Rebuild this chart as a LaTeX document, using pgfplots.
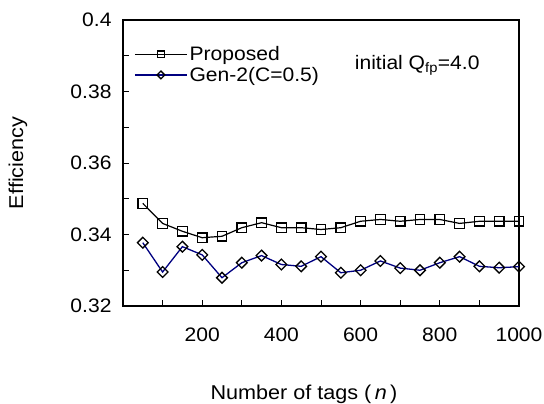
\documentclass[border=0pt]{standalone}
\usepackage{fontspec}
\setmainfont{Liberation Sans}[FakeStretch=1.08]
\usepackage{pgfplots}
\usepackage{pgfplotstable}
\pgfplotsset{compat=1.18}
\definecolor{gentwo}{RGB}{0,0,128}

% efficiency vs number of tags
\pgfplotstableread{
n    prop    gen
50   0.3487  0.3377
100  0.3431  0.3295
150  0.3409  0.3366
200  0.3391  0.3343
250  0.3395  0.3279
300  0.3419  0.3321
350  0.3433  0.3341
400  0.3419  0.3316
450  0.3419  0.3311
500  0.3414  0.3338
550  0.3419  0.3293
600  0.3437  0.3300
650  0.3442  0.3326
700  0.3437  0.3306
750  0.3442  0.3300
800  0.3442  0.3321
850  0.3431  0.3338
900  0.3437  0.3311
950  0.3437  0.3307
1000 0.3437  0.3310
}\effdata

\newcommand{\lblfont}{\fontsize{19.5bp}{22bp}\selectfont}

\begin{document}
\begin{tikzpicture}
\begin{axis}[
  scale only axis, width=396bp, height=286bp,
  xmin=0, xmax=1000, ymin=0.32, ymax=0.40,
  xtick={200,400,600,800,1000}, minor xtick={100,300,500,700,900},
  ytick={0.32,0.34,0.36,0.38,0.40}, minor ytick={0.33,0.35,0.37,0.39},
  tick align=inside, xtick pos=bottom, ytick pos=left,
  major tick length=6bp, minor tick length=6bp,
  axis line style={line width=1.4bp},
  every tick/.style={black, line width=0.8bp},
  /pgf/number format/assume math mode=true,
  tick label style={font=\lblfont},
  yticklabel style={/pgf/number format/fixed, /pgf/number format/precision=2, xshift=-8bp},
  xticklabel style={/pgf/number format/1000 sep={}, yshift=-18bp},
  xlabel={Number of tags (\,\textit{n}\,)},
  ylabel={Efficiency},
  label style={font=\fontsize{20bp}{23bp}\selectfont},
  xlabel style={at={(axis description cs:0.457,0)}, anchor=center, yshift=-88bp},
  ylabel style={at={(axis description cs:0,0.5)}, anchor=center, xshift=0bp, yshift=105bp},
  legend style={draw=none, fill=none, at={(axis description cs:0.028,0.915)},
    anchor=north west, font=\lblfont, row sep=1bp, inner sep=0pt},
  legend cell align=left,
  legend image code/.code={\draw[mark repeat=2, mark phase=2, #1, mark size=0.72*\pgfplotmarksize]
    plot coordinates {(0bp,0bp) (26bp,0bp) (52bp,0bp)};},
]
\addplot[black, line width=1.2bp, mark=square, mark size=4.8bp,
  mark options={solid, fill=white, line width=1.3bp}] table[x=n, y=prop] {\effdata};
\addlegendentry{Proposed}
\addplot[gentwo, line width=1.3bp, mark=square, mark size=3.8bp,
  mark options={solid, rotate=45, draw=black, fill=white, line width=1.3bp}] table[x=n, y=gen] {\effdata};
\addlegendentry{Gen-2(C=0.5)}
\node[font=\lblfont] at (axis cs:743,0.3874) {initial Q\textsubscript{fp}=4.0};
\end{axis}
\pgfresetboundingbox
\path[use as bounding box] ([shift={(-123bp,-98bp)}]current axis.south west)
  rectangle ([shift={(25bp,20bp)}]current axis.north east);
\end{tikzpicture}
\end{document}
